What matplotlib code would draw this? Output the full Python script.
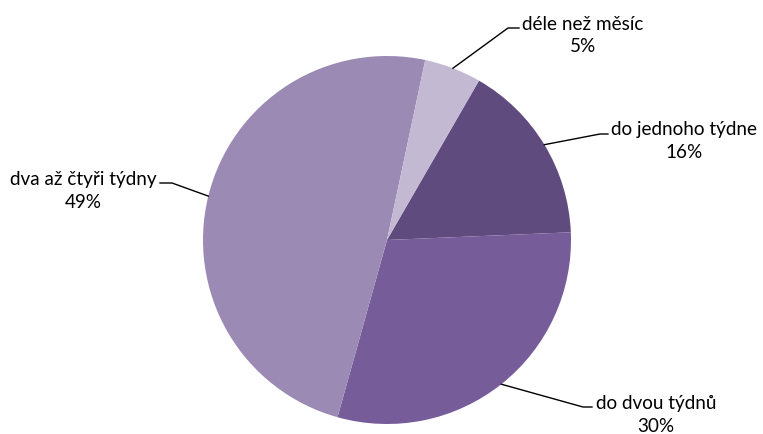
import numpy as np
import matplotlib
matplotlib.use("Agg")
import matplotlib.pyplot as plt

labels = ["do jednoho týdne", "do dvou týdnů", "dva až čtyři týdny", "déle než měsíc"]
shares = [16, 30, 49, 5]
colors = ["#604B7E", "#775C9A", "#9B8AB4", "#C3B9D3"]

# label block layout in pixel space: (elbow x, elbow y, end x, text x, ha)
label_pos = [
    (600, 134, 608, 611, "left"),
    (583, 407, 592, 596, "left"),
    (172, 183, 160, 157, "right"),
    (508, 28, 519, 522, "left"),
]
FS = 13.6

W, H = 763, 434
fig = plt.figure(figsize=(W / 100, H / 100), dpi=100)
ax = fig.add_axes([0, 0, 1, 1])

cx, cy, r = 387, H - 240, 184
wedges, _ = ax.pie(shares, colors=colors, startangle=60, counterclock=False,
                   center=(cx, cy), radius=r, frame=True,
                   wedgeprops=dict(linewidth=0))
ax.set_xlim(0, W)
ax.set_ylim(0, H)
ax.set_aspect("equal")
ax.axis("off")

for w, lab, val, (ex, ey, endx, tx, ha) in zip(wedges, labels, shares, label_pos):
    mid = np.deg2rad((w.theta1 + w.theta2) / 2)
    px, py = cx + r * np.cos(mid), cy + r * np.sin(mid)
    ey = H - ey
    ax.plot([px, ex, endx], [py, ey, ey], color="black", lw=1)
    t = ax.text(tx, ey + 4, lab, ha=ha, va="center", fontsize=FS, family="Lato")
    # percentage centred under the label
    fig.canvas.draw()
    bb = t.get_window_extent().transformed(ax.transData.inverted())
    ax.text((bb.x0 + bb.x1) / 2, ey + 4 - 23, f"{val}%", ha="center", va="center",
            fontsize=FS, family="Lato")

fig.savefig("out.png", dpi=100)
